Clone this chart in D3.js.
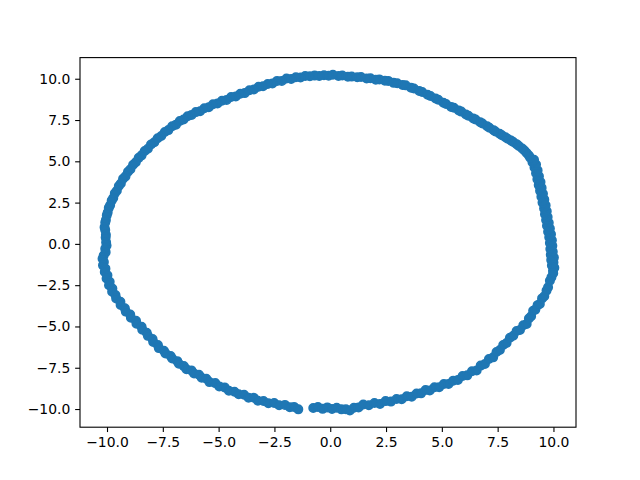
<!DOCTYPE html>
<html><head><meta charset="utf-8">
<script src="https://cdn.jsdelivr.net/npm/d3@7"></script>
<style>body{margin:0;background:#fff}svg{display:block}</style>
</head><body><svg id="c" width="640" height="480"></svg>
<script>
// Points, grouped by region of the ring
const rightSide = [[9.98,-1.62],[10.04,-1.45],[9.93,-1.31],[10.00,-1.12],[9.90,-0.97],[10.02,-0.83],[9.88,-0.66],[9.97,-0.48],[9.86,-0.31],[9.95,-0.12],[9.84,0.05],[9.93,0.22],[9.81,0.40],[9.89,0.58],[9.76,0.74],[9.84,0.93],[9.71,1.10],[9.79,1.28],[9.67,1.45],[9.74,1.63],[9.62,1.80],[9.70,1.98],[9.58,2.15],[9.65,2.33],[9.51,2.50],[9.59,2.68],[9.46,2.86],[9.53,3.03],[9.40,3.21],[9.47,3.39],[9.34,3.56],[9.42,3.74],[9.28,3.92],[9.35,4.10],[9.22,4.28],[9.29,4.45],[9.15,4.63],[9.22,4.80],[9.06,4.95],[9.13,5.10],[8.96,5.22],[8.90,5.35],[8.80,5.50]];
const topRight = [[8.70,5.66],[8.60,5.78],[8.45,5.93],[8.35,6.04],[8.20,6.17],[8.10,6.26],[7.95,6.37],[7.85,6.46],[7.69,6.58],[7.59,6.67],[7.40,6.80],[7.32,6.88],[7.13,7.03],[7.03,7.12],[6.82,7.29],[6.72,7.36],[6.51,7.53],[6.41,7.59],[6.19,7.76],[6.08,7.84],[5.87,8.01],[5.76,8.08],[5.54,8.24],[5.42,8.29],[5.19,8.47],[5.07,8.55],[4.84,8.73],[4.72,8.80],[4.49,8.96],[4.36,9.03],[4.12,9.20],[3.99,9.26],[3.75,9.41],[3.62,9.46],[3.38,9.60],[3.24,9.62],[3.00,9.73],[2.84,9.75],[2.60,9.87],[2.45,9.88],[2.20,9.96],[2.04,9.94],[1.80,10.03],[1.63,10.02],[1.38,10.11],[1.21,10.09],[0.96,10.13],[0.79,10.12],[0.54,10.20],[0.37,10.17],[0.12,10.24],[-0.07,10.18]];
const topLeft = [[-0.28,10.21],[-0.49,10.17],[-0.70,10.19],[-0.91,10.15],[-1.12,10.17],[-1.33,10.08],[-1.54,10.09],[-1.75,9.98],[-1.96,10.01],[-2.17,9.87],[-2.38,9.87],[-2.59,9.71],[-2.80,9.68],[-3.01,9.54],[-3.21,9.51],[-3.42,9.35],[-3.62,9.30],[-3.83,9.13],[-4.03,9.09],[-4.23,8.93],[-4.44,8.89],[-4.64,8.72],[-4.85,8.67],[-5.05,8.50],[-5.25,8.45],[-5.44,8.27],[-5.64,8.21],[-5.83,8.03],[-6.02,7.98],[-6.21,7.81],[-6.39,7.73],[-6.57,7.53],[-6.74,7.44],[-6.91,7.22],[-7.08,7.12],[-7.25,6.89],[-7.41,6.77],[-7.57,6.53],[-7.73,6.40],[-7.88,6.15],[-8.03,6.02],[-8.17,5.76],[-8.31,5.62],[-8.45,5.36],[-8.58,5.21],[-8.71,4.94],[-8.83,4.79],[-8.95,4.52],[-9.06,4.37],[-9.17,4.09],[-9.28,3.94],[-9.38,3.66],[-9.47,3.50],[-9.56,3.22],[-9.65,3.06],[-9.72,2.78],[-9.79,2.62],[-9.86,2.34],[-9.92,2.18],[-9.97,1.90],[-10.01,1.73],[-10.05,1.45],[-10.08,1.29],[-10.11,1.00],[-10.08,0.84],[-10.05,0.55],[-10.06,0.39],[-10.04,0.10]];
const leftLower = [[-10.02,-0.10],[-10.08,-0.30],[-10.06,-0.50],[-10.15,-0.70],[-10.20,-0.90],[-10.14,-1.10],[-10.18,-1.30],[-10.07,-1.50],[-10.10,-1.70],[-9.98,-1.90],[-10.02,-2.10],[-9.88,-2.30],[-9.91,-2.50],[-9.76,-2.70],[-9.77,-2.90],[-9.62,-3.10],[-9.59,-3.30],[-9.40,-3.50],[-9.39,-3.70],[-9.20,-3.90],[-9.16,-4.10],[-8.96,-4.28],[-8.93,-4.47],[-8.70,-4.65],[-8.68,-4.83],[-8.45,-5.02],[-8.42,-5.20],[-8.22,-5.38],[-8.17,-5.57],[-7.96,-5.76],[-7.93,-5.94],[-7.72,-6.13],[-7.68,-6.31],[-7.45,-6.47],[-7.38,-6.63],[-7.15,-6.79],[-7.08,-6.94],[-6.85,-7.10],[-6.78,-7.26],[-6.56,-7.40],[-6.44,-7.59],[-6.22,-7.66],[-6.10,-7.85],[-5.88,-7.92],[-5.76,-8.11],[-5.55,-8.17],[-5.41,-8.37],[-5.15,-8.43],[-4.97,-8.63],[-4.73,-8.69],[-4.54,-8.89],[-4.29,-8.95],[-4.10,-9.11],[-3.86,-9.14],[-3.66,-9.31],[-3.42,-9.32],[-3.24,-9.50],[-2.99,-9.51],[-2.77,-9.65],[-2.51,-9.63],[-2.29,-9.77],[-2.03,-9.75],[-1.81,-9.89],[-1.62,-9.87],[-1.43,-10.02]];
const bottomRight = [[-0.76,-9.94],[-0.55,-9.88],[-0.34,-9.99],[-0.13,-9.90],[0.08,-10.00],[0.29,-9.92],[0.50,-10.02],[0.70,-10.01],[0.88,-10.09],[1.06,-9.92],[1.27,-9.90],[1.48,-9.73],[1.73,-9.77],[1.98,-9.63],[2.23,-9.69],[2.48,-9.52],[2.72,-9.55],[2.97,-9.39],[3.20,-9.41],[3.43,-9.23],[3.65,-9.25],[3.87,-9.06],[4.07,-9.05],[4.27,-8.85],[4.46,-8.88],[4.67,-8.68],[4.88,-8.68],[5.09,-8.48],[5.30,-8.48],[5.51,-8.28],[5.72,-8.24],[5.93,-8.00],[6.14,-7.96],[6.35,-7.71],[6.56,-7.67],[6.74,-7.37],[6.93,-7.27],[7.11,-6.97],[7.30,-6.87],[7.45,-6.55],[7.60,-6.43],[7.75,-6.12],[7.90,-6.00],[8.05,-5.68],[8.20,-5.56],[8.35,-5.28],[8.50,-5.21],[8.65,-4.93],[8.80,-4.85],[8.90,-4.52],[9.00,-4.38],[9.09,-4.05],[9.19,-3.98],[9.29,-3.71],[9.39,-3.64],[9.49,-3.30],[9.59,-3.17],[9.69,-2.83],[9.76,-2.63],[9.84,-2.23],[9.91,-2.02],[9.99,-1.78]];
const xTicks = [-10, -7.5, -5, -2.5, 0, 2.5, 5, 7.5, 10];
const yTicks = [-10, -7.5, -5, -2.5, 0, 2.5, 5, 7.5, 10];

const points = [].concat(rightSide, topRight, topLeft, leftLower, bottomRight);

const svg = d3.select("#c");
const plotLeft = 80, plotRight = 576, plotTop = 57.6, plotBottom = 427.2;
const x = d3.scaleLinear().domain([-11.21, 11.01]).range([plotLeft, plotRight]);
const y = d3.scaleLinear().domain([-11.1, 11.28]).range([plotBottom, plotTop]);

svg.append("g").selectAll("circle").data(points).join("circle")
  .attr("cx", d => x(d[0])).attr("cy", d => y(d[1]))
  .attr("r", 4.2).attr("fill", "#1f77b4")
  .attr("stroke", "#1f77b4").attr("stroke-width", 1.6);

const fmt = d3.format(".1f");
const tickLen = 4.86;
const gx = svg.append("g").attr("transform", `translate(0,${plotBottom})`)
  .call(d3.axisBottom(x).tickValues(xTicks).tickFormat(fmt).tickSize(tickLen).tickPadding(4.9).tickSizeOuter(0));
const gy = svg.append("g").attr("transform", `translate(${plotLeft},0)`)
  .call(d3.axisLeft(y).tickValues(yTicks).tickFormat(fmt).tickSize(tickLen).tickPadding(4.9).tickSizeOuter(0));
[gx, gy].forEach(g => {
  g.select(".domain").remove();
  g.selectAll(".tick line").attr("stroke", "#000").attr("stroke-width", 1.1);
  g.selectAll(".tick text").attr("fill", "#000")
    .style("font-family", "'DejaVu Sans', sans-serif").style("font-size", "13.9px");
});
svg.append("rect").attr("x", plotLeft).attr("y", plotTop)
  .attr("width", plotRight - plotLeft).attr("height", plotBottom - plotTop)
  .attr("fill", "none").attr("stroke", "#000").attr("stroke-width", 1.1);
</script></body></html>
